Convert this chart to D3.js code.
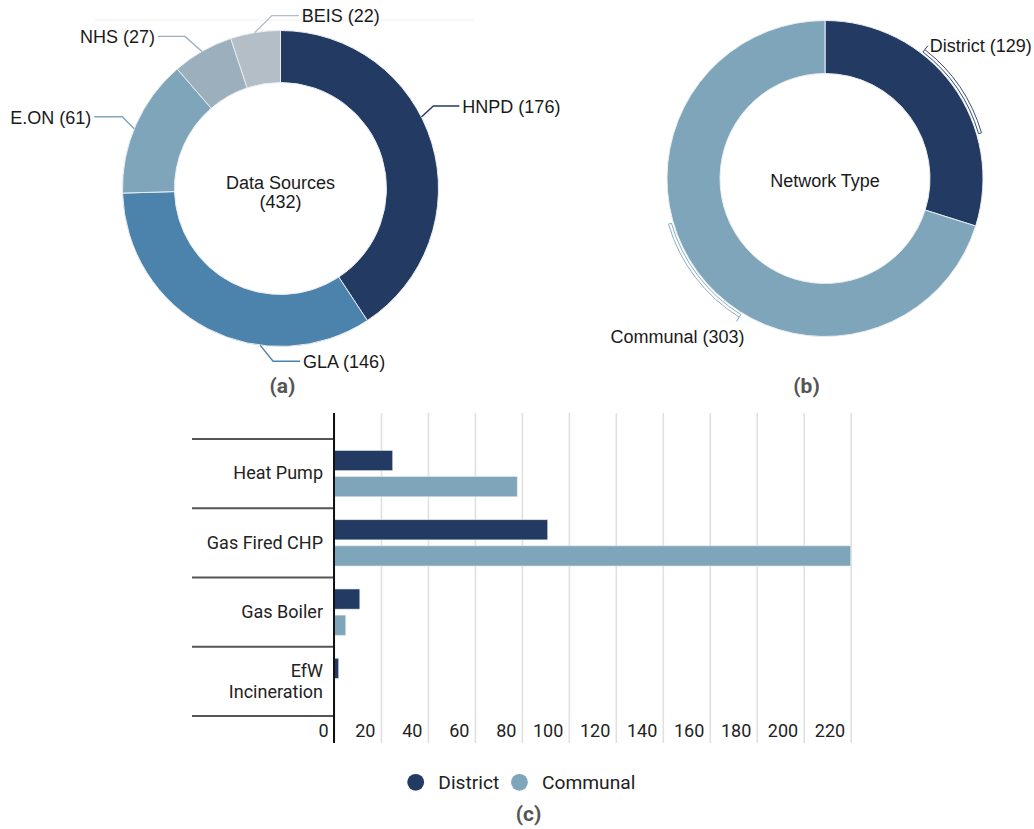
<!DOCTYPE html>
<html>
<head>
<meta charset="utf-8">
<script src="https://cdn.jsdelivr.net/npm/d3@7"></script>
<style>
  body { margin: 0; background: #fff; }
  svg { display: block; }
  .donut-text { font-family: "Liberation Sans", Arial, sans-serif; font-size: 18px; fill: #1a1a1a; }
  .bar-text { font-family: Roboto, sans-serif; font-size: 18px; fill: #222; }
  .legend-text { font-family: Roboto, sans-serif; font-size: 19.2px; fill: #222; }
  .caption { font-family: Roboto, sans-serif; font-size: 21px; font-weight: bold; fill: #555; }
</style>
</head>
<body>
<div id="chart"></div>
<script>
// data
const sources = ["HNPD", "GLA", "E.ON", "NHS", "BEIS"];
const sourceCounts = [176, 146, 61, 27, 22];
const sourceColors = ["#233a63", "#4b83ad", "#7fa5bb", "#9cafbd", "#b4bec6"];

const networkTypes = ["District", "Communal"];
const networkCounts = [129, 303];
const networkColors = ["#233a63", "#7fa5bb"];

const technologies = ["Heat Pump", "Gas Fired CHP", "Gas Boiler", "EfW\nIncineration"];
const districtByTech = [25, 91, 11, 2];
const communalByTech = [78, 220, 5, 0];
const xTicks = [0, 20, 40, 60, 80, 100, 120, 140, 160, 180, 200, 220];

const width = 1034, height = 829;

const svg = d3.select("#chart").append("svg")
    .attr("width", width)
    .attr("height", height);

const pie = d3.pie().sort(null).value(d => d.value);

// ---------- (a) data sources donut ----------
const donutA = { cx: 280.5, cy: 188.5, r0: 106, r1: 158 };
// where each leader touches the ring (fraction inside slice) and how it bends
const sourceLabelLayout = [
    { frac: 0.43, elbow: [12, -11], run: 26 },
    { frac: 0.335, elbow: [13, 16], run: 27 },
    { frac: 0.47, elbow: [-12, -12], run: -28 },
    { frac: 0.49, elbow: [-17, -15], run: -27 },
    { frac: 0.49, elbow: [17, -17], run: 27 }
];

// faint rule across the top of panel (a)
svg.append("line")
    .attr("x1", 95).attr("x2", 475)
    .attr("y1", 20).attr("y2", 20)
    .attr("stroke", "#f1f1f1");

const gA = svg.append("g").attr("transform", `translate(${donutA.cx},${donutA.cy})`);
const arcA = d3.arc().innerRadius(donutA.r0).outerRadius(donutA.r1);
const slicesA = pie(sources.map((s, i) => ({ name: s, value: sourceCounts[i], color: sourceColors[i] })));

gA.selectAll("path.slice")
    .data(slicesA)
    .enter().append("path")
    .attr("class", "slice")
    .attr("d", arcA)
    .attr("fill", d => d.data.color)
    .attr("stroke", "#e8edf1")
    .attr("stroke-width", 1);

slicesA.forEach(function(d, i) {
    const lay = sourceLabelLayout[i];
    const a = d.startAngle + (d.endAngle - d.startAngle) * lay.frac;
    const p0 = [donutA.r1 * Math.sin(a), -donutA.r1 * Math.cos(a)];
    const p1 = [p0[0] + lay.elbow[0], p0[1] + lay.elbow[1]];
    const p2 = [p1[0] + lay.run, p1[1]];
    gA.append("path")
        .attr("d", d3.line()([p0, p1, p2]))
        .attr("fill", "none")
        .attr("stroke", d.data.color)
        .attr("stroke-width", 1.4);
    gA.append("text")
        .attr("class", "donut-text")
        .attr("x", p2[0] + (lay.run > 0 ? 3 : -3))
        .attr("y", p2[1])
        .attr("dy", "0.38em")
        .attr("text-anchor", lay.run > 0 ? "start" : "end")
        .text(`${d.data.name} (${d.data.value})`);
});

gA.append("text").attr("class", "donut-text")
    .attr("text-anchor", "middle").attr("y", 0.5)
    .text("Data Sources");
gA.append("text").attr("class", "donut-text")
    .attr("text-anchor", "middle").attr("y", 19.5)
    .text(`(${d3.sum(sourceCounts)})`);

svg.append("text").attr("class", "caption")
    .attr("x", 282.5).attr("y", 393)
    .attr("text-anchor", "middle")
    .text("(a)");

// ---------- (b) network type donut ----------
const donutB = { cx: 825, cy: 178.5, r0: 105, r1: 158 };
const networkLabelLayout = [
    { from: -16, to: 20, anchor: "start", dx: 2, dy: 6 },
    { from: -22, to: 20, anchor: "end", dx: 8, dy: 22 }
];

const gB = svg.append("g").attr("transform", `translate(${donutB.cx},${donutB.cy})`);
const arcB = d3.arc().innerRadius(donutB.r0).outerRadius(donutB.r1);
const slicesB = pie(networkTypes.map((s, i) => ({ name: s, value: networkCounts[i], color: networkColors[i] })));

gB.selectAll("path.slice")
    .data(slicesB)
    .enter().append("path")
    .attr("class", "slice")
    .attr("d", arcB)
    .attr("fill", d => d.data.color)
    .attr("stroke", "#e8edf1")
    .attr("stroke-width", 1);

const bracketArc = d3.arc().innerRadius(donutB.r1 + 2).outerRadius(donutB.r1 + 5);
const rad = Math.PI / 180;

slicesB.forEach(function(d, i) {
    const lay = networkLabelLayout[i];
    const mid = (d.startAngle + d.endAngle) / 2;
    const a0 = mid + lay.from * rad, a1 = mid + lay.to * rad;
    gB.append("path")
        .attr("d", bracketArc({ startAngle: a0, endAngle: a1 }))
        .attr("fill", "#fff")
        .attr("stroke", d.data.color)
        .attr("stroke-width", 0.9);
    const t0 = [(donutB.r1 + 5) * Math.sin(a0), -(donutB.r1 + 5) * Math.cos(a0)];
    const t1 = [(donutB.r1 + 10) * Math.sin(a0), -(donutB.r1 + 10) * Math.cos(a0)];
    gB.append("line")
        .attr("x1", t0[0]).attr("y1", t0[1])
        .attr("x2", t1[0]).attr("y2", t1[1])
        .attr("stroke", d.data.color)
        .attr("stroke-width", 1);
    gB.append("text")
        .attr("class", "donut-text")
        .attr("x", t1[0] + lay.dx)
        .attr("y", t1[1] + lay.dy)
        .attr("text-anchor", lay.anchor)
        .text(`${d.data.name} (${d.data.value})`);
});

gB.append("text").attr("class", "donut-text")
    .attr("text-anchor", "middle").attr("y", 8.5)
    .text("Network Type");

svg.append("text").attr("class", "caption")
    .attr("x", 806.5).attr("y", 393)
    .attr("text-anchor", "middle")
    .text("(b)");

// ---------- (c) bar chart ----------
const plotTop = 413, plotBottom = 743;
const x = d3.scaleLinear().domain([0, 220]).range([334, 850.7]);
const y = d3.scaleBand().domain(technologies).range([439, 716]);
const ySub = d3.scaleBand().domain(networkTypes)
    .range([0, y.bandwidth()]).paddingInner(0.23).paddingOuter(0.44);

const grid = svg.append("g")
    .attr("class", "bar-text")
    .attr("transform", `translate(0,${plotBottom})`)
    .call(d3.axisBottom(x).tickValues(xTicks).tickSize(-(plotBottom - plotTop)));
grid.select(".domain").remove();
grid.selectAll(".tick line")
    .attr("stroke", "#e0e0e0")
    .attr("stroke-width", 1.6);
grid.selectAll(".tick text")
    .attr("class", "bar-text")
    .attr("text-anchor", "end")
    .attr("x", -6)
    .attr("y", -6)
    .attr("dy", 0);

const bars = svg.append("g");
technologies.forEach(function(t, i) {
    const vals = [districtByTech[i], communalByTech[i]];
    networkTypes.forEach(function(n, j) {
        if (vals[j] <= 0) return;
        bars.append("rect")
            .attr("x", x(0))
            .attr("y", y(t) + ySub(n))
            .attr("width", x(vals[j]) - x(0))
            .attr("height", ySub.bandwidth())
            .attr("fill", networkColors[j])
            .attr("stroke", "#dbe4ea")
            .attr("stroke-width", 0.6);
    });
});

// category separators
const seps = technologies.map(t => y(t)).concat([y.range()[1]]);
svg.append("g").selectAll("line")
    .data(seps)
    .enter().append("line")
    .attr("x1", 192).attr("x2", x(0))
    .attr("y1", d => d).attr("y2", d => d)
    .attr("stroke", "#555")
    .attr("stroke-width", 1.8);

// zero axis
svg.append("line")
    .attr("x1", x(0)).attr("x2", x(0))
    .attr("y1", plotTop).attr("y2", plotBottom)
    .attr("stroke", "#111")
    .attr("stroke-width", 2);

// category labels
technologies.forEach(function(t) {
    const lines = t.split("\n");
    const c = y(t) + y.bandwidth() / 2 + 5.7;
    const txt = svg.append("text")
        .attr("class", "bar-text")
        .attr("text-anchor", "end");
    lines.forEach(function(l, k) {
        txt.append("tspan")
            .attr("x", 323)
            .attr("y", c + (k - (lines.length - 1) / 2) * 21)
            .text(l);
    });
});

// legend
const legend = svg.append("g").attr("transform", "translate(407.5,782.3)");
let lx = 0;
networkTypes.forEach(function(n, j) {
    legend.append("circle")
        .attr("cx", lx + 8.2).attr("cy", 0).attr("r", 8.4)
        .attr("fill", networkColors[j]);
    const lt = legend.append("text")
        .attr("class", "legend-text")
        .attr("x", lx + 30.8).attr("y", 7)
        .text(n);
    lx += 30.8 + lt.node().getComputedTextLength() + 12;
});

svg.append("text").attr("class", "caption")
    .attr("x", 528.5).attr("y", 821)
    .attr("text-anchor", "middle")
    .text("(c)");
</script>
</body>
</html>
